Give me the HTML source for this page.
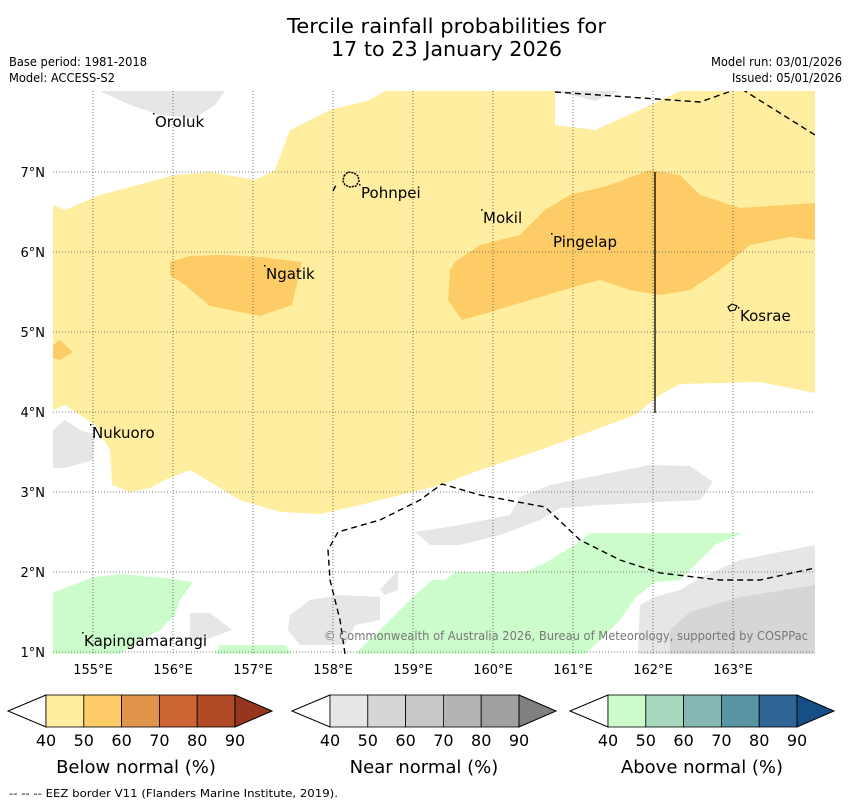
<!DOCTYPE html>
<html><head><meta charset="utf-8"><style>
body{margin:0;background:#fff;width:850px;height:804px;overflow:hidden}
svg{font-family:"DejaVu Sans","Liberation Sans",sans-serif}
</style></head><body>
<svg id="chart" width="850" height="804" xmlns="http://www.w3.org/2000/svg">
<text x="287" y="33" font-size="20" textLength="319" lengthAdjust="spacingAndGlyphs">Tercile rainfall probabilities for</text>
<text x="331" y="56" font-size="20" textLength="231" lengthAdjust="spacingAndGlyphs">17 to 23 January 2026</text>
<text x="9" y="66" font-size="12" textLength="138" lengthAdjust="spacingAndGlyphs">Base period: 1981-2018</text>
<text x="9" y="82" font-size="12" textLength="106" lengthAdjust="spacingAndGlyphs">Model: ACCESS-S2</text>
<text x="711" y="66" font-size="12" textLength="131" lengthAdjust="spacingAndGlyphs">Model run: 03/01/2026</text>
<text x="732" y="82" font-size="12" textLength="110" lengthAdjust="spacingAndGlyphs">Issued: 05/01/2026</text>
<defs><clipPath id="mapclip"><rect x="53" y="91" width="762" height="563"/></clipPath></defs>
<g id="map" clip-path="url(#mapclip)"></g>
<g id="axes"></g>
<g id="bars"></g>
<text x="9" y="797" font-size="11" textLength="329" lengthAdjust="spacingAndGlyphs">--  --  -- EEZ border V11 (Flanders Marine Institute, 2019).</text>
</svg>
<script>
const lonTicks=[155,156,157,158,159,160,161,162,163];
const latTicks=[1,2,3,4,5,6,7];
const placeNames=["Oroluk","Pohnpei","Mokil","Pingelap","Ngatik","Kosrae","Nukuoro","Kapingamarangi"];
const placeLons=[155.775,158.35,159.875,160.75,157.1625,163.0875,154.9875,154.8875];
const placeLats=[7.5625,6.675,6.3625,6.0625,5.6625,5.1375,3.675,1.075];
const barLevels=[40,50,60,70,80,90];
const belowColors=["#ffeda0","#fecc66","#e0944a","#cd6434","#b04a26","#96361f"];
const nearColors=["#e6e6e6","#d6d6d6","#c8c8c8","#b4b4b4","#a0a0a0","#808080"];
const aboveColors=["#ccfccb","#a6d9bd","#85b8b3","#5a95a3","#2f6496","#164f86"];
const barTitles=["Below normal (%)","Near normal (%)","Above normal (%)"];
const barStarts=[46,330,608];

const NS="http://www.w3.org/2000/svg";
const X=lon=>93+(lon-155)*80, Y=lat=>172-(lat-7)*80;
const map=document.getElementById('map'),axes=document.getElementById('axes'),bars=document.getElementById('bars');
function mk(tag,attrs,parent){const e=document.createElementNS(NS,tag);for(const k in attrs)e.setAttribute(k,attrs[k]);parent.appendChild(e);return e;}
const shapes=[
["#ffeda0","below-40-50-region","53,205 65,210 100,195 175,175 210,172 255,180 275,170 290,130 330,110 370,100 385,91 555,91 555,125 595,130 640,110 680,91 815,91 815,393 760,382 680,384 660,395 635,415 600,428 540,450 480,470 440,485 400,495 360,505 320,514 280,512 240,500 215,485 190,470 165,480 150,488 130,492 112,485 110,450 95,425 80,415 65,405 53,410"],
["#fecc66","below-50-60-left","53,345 60,340 73,352 60,360 53,358"],
["#fecc66","below-50-60-ngatik","170,262 190,256 220,255 260,257 302,262 292,305 260,316 210,306 185,285 170,275"],
["#fecc66","below-50-60-east","455,262 480,245 520,235 545,210 570,195 610,185 650,170 680,175 700,195 740,208 815,203 815,240 790,237 750,245 720,270 690,290 660,295 630,290 600,280 570,288 530,300 490,312 462,320 448,300 450,270"],
["#e6e6e6","near-40-50-north","100,91 225,91 215,105 195,118 160,115 130,105"],
["#e6e6e6","near-40-50-ne","555,91 620,91 595,101"],
["#e6e6e6","near-40-50-nukuoro","53,430 65,420 80,430 95,435 93,460 65,468 53,468"],
["#e6e6e6","near-40-50-center","415,532 460,525 510,515 520,497 550,485 600,475 650,465 690,466 713,482 700,500 600,505 560,508 540,520 500,535 460,545 430,545"],
["#e6e6e6","near-40-50-south","290,615 310,600 340,595 380,597 380,620 355,625 345,645 300,645 288,630"],
["#e6e6e6","near-40-50-small","380,590 398,570 398,590 385,595"],
["#e6e6e6","near-40-50-sw","190,613 210,613 232,630 205,640 190,640"],
["#e6e6e6","near-40-50-se","638,654 640,605 655,597 680,590 700,578 740,560 815,545 815,654"],
["#d6d6d6","near-50-60-se","670,654 670,630 690,612 740,597 815,585 815,654"],
["#ccfccb","above-40-50-sw","53,593 90,578 120,574 165,578 193,582 180,600 175,615 160,630 140,640 120,654 53,654"],
["#ccfccb","above-40-50-strip","215,654 220,645 285,645 292,654"],
["#ccfccb","above-40-50-south","355,654 380,630 410,600 432,580 445,580 455,572 525,572 545,563 575,545 590,533 742,533 715,545 700,560 680,580 655,582 635,598 620,620 600,640 585,654"]];
shapes.forEach(s=>{const p=mk('polygon',{points:s[2],fill:s[0]},map);

});
lonTicks.forEach(l=>{const g=mk('line',{x1:X(l),x2:X(l),y1:91,y2:654,stroke:'#555','stroke-width':0.8,'stroke-dasharray':'1,2'},map);


const t=mk('text',{x:X(l),y:674,'font-size':13,'text-anchor':'middle'},axes);t.textContent=l+'°E';

});
latTicks.forEach(l=>{const g=mk('line',{x1:53,x2:815,y1:Y(l),y2:Y(l),stroke:'#555','stroke-width':0.8,'stroke-dasharray':'1,2'},map);


const t=mk('text',{x:45,y:Y(l)+5,'font-size':13,'text-anchor':'end'},axes);t.textContent=l+'°N';

});
[["eez-border-north","555,92 700,102 740,88 815,135"],["eez-border-south","345,654 340,620 330,580 328,550 338,532 380,520 420,500 442,484 480,495 545,507 580,540 620,560 660,573 720,580 760,580 815,568"],["eez-border-pohnpei","333,191 337,183"]].forEach(e=>{
const p=mk('polyline',{points:e[1],fill:'none',stroke:'#000','stroke-width':1.4,'stroke-dasharray':'6,4'},map);

});
const v=mk('line',{x1:655,x2:655,y1:172,y2:413,stroke:'#000','stroke-width':1.3},map);


const isl=mk('path',{d:'M344,176 l4,-4 l6,1 l4,3 l1,5 l-3,5 l-6,1 l-5,-2 l-2,-4z',fill:'none',stroke:'#000','stroke-width':1.5,'stroke-dasharray':'2,1'},map);


const kos=mk('path',{d:'M728,307 l4,-3 l5,2 l-2,4 l-5,1z',fill:'none',stroke:'#000','stroke-width':1.2},map);


placeNames.forEach((n,i)=>{const x=X(placeLons[i]),y=Y(placeLats[i]);
const d=mk('rect',{x:x-2,y:y-14,width:1.5,height:1.5,fill:'#000'},map);


const t=mk('text',{x:x,y:y,'font-size':15},map);t.textContent=n;

});
const c=mk('text',{x:324,y:640,'font-size':12,fill:'#777',textLength:484,lengthAdjust:'spacingAndGlyphs'},map);c.textContent='© Commonwealth of Australia 2026, Bureau of Meteorology, supported by COSPPac';


const titleCenters=[136,424,702];
[belowColors,nearColors,aboveColors].forEach((cols,bi)=>{
const x0=barStarts[bi],w=37.8,top=695,bot=727,mid=711,end=x0+w*(barLevels.length-1);
const g=mk('g',{},bars);


mk('polygon',{points:`${x0},${top} ${x0-38},${mid} ${x0},${bot}`,fill:'#fff',stroke:'#000','stroke-width':1},g);
for(let i=0;i<barLevels.length-1;i++){const r=mk('rect',{x:x0+i*w,y:top,width:w,height:bot-top,fill:cols[i],stroke:'#000','stroke-width':0.8},g);

}
mk('polygon',{points:`${end},${top} ${end+37},${mid} ${end},${bot}`,fill:cols[5],stroke:'#000','stroke-width':1},g);
barLevels.forEach((lv,i)=>{const t=mk('text',{x:x0+i*w,y:746,'font-size':16,'text-anchor':'middle'},g);t.textContent=lv;

});
const t=mk('text',{x:titleCenters[bi],y:773,'font-size':18,'text-anchor':'middle'},g);t.textContent=barTitles[bi];


});
</script>
</body></html>
